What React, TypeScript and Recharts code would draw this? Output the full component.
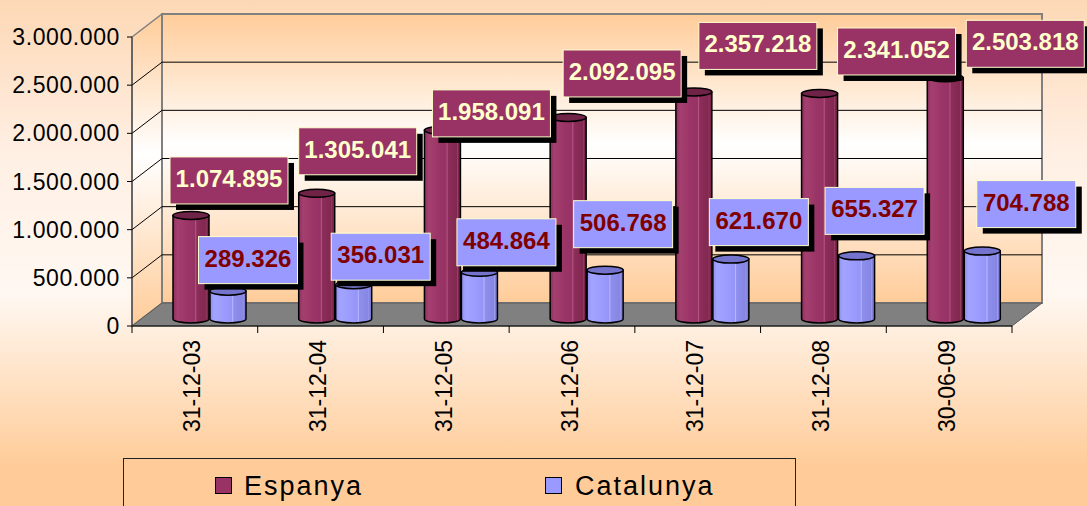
import React from 'react';
import { BarChart, Bar, XAxis, YAxis, CartesianGrid, ReferenceArea, LabelList, Legend } from 'recharts';

const categories = ['31-12-03', '31-12-04', '31-12-05', '31-12-06', '31-12-07', '31-12-08', '30-06-09'];
const espanya = [1074895, 1305041, 1958091, 2092095, 2357218, 2341052, 2503818];
const catalunya = [289326, 356031, 484864, 506768, 621670, 655327, 704788];
const yTicks = [0, 500000, 1000000, 1500000, 2000000, 2500000, 3000000];
const seriesNames = ['Espanya', 'Catalunya'];

// label placement nudges (label centre relative to the top of its cylinder)
const espLabelOffsets = [[38, -35], [41, -42], [49, -17], [54, -44], [64, -46], [77, -42], [80, -34]];
const catLabelOffsets = [[20, -31], [27, -28], [27, -30], [18, -46], [28, -37], [18, -45], [44, -47]];

const data = categories.map((c, i) => ({ cat: c, Espanya: espanya[i], Catalunya: catalunya[i] }));

const DX = 15; const DY = 7; // cylinder depth shift
const BX = 30; const BY = 23; // back wall depth
const FONT = '"Liberation Sans", Arial, Helvetica, sans-serif';
const ESP = '#993366';
const CAT = '#9999FF';

const fmt = (n: number) => String(n).replace(/\B(?=(\d{3})+(?!\d))/g, '.');

const Frame = (p: any) => {
  const { x, y, width: w, height: h } = p;
  if (x == null || w == null) return null;
  const n = categories.length;
  const ticks = Array.from({ length: n + 1 }, (_, k) => x + (k * w) / n);
  return (
    <g>
      <defs>
        <linearGradient id="wallGrad" x1="0" y1="0" x2="0" y2="1">
          <stop offset="0" stopColor="#FFCC99" />
          <stop offset="0.45" stopColor="#FFFFFF" />
          <stop offset="1" stopColor="#FFCC99" />
        </linearGradient>
      </defs>
      <polygon
        points={`${x},${y} ${x + BX},${y - BY} ${x + BX},${y + h - BY} ${x},${y + h}`}
        fill="url(#wallGrad)" stroke="#808080" strokeWidth={1.5}
      />
      <rect x={x + BX} y={y - BY} width={w} height={h} fill="url(#wallGrad)" stroke="#808080" strokeWidth={2} />
      <polygon
        points={`${x},${y + h} ${x + w},${y + h} ${x + w + BX},${y + h - BY} ${x + BX},${y + h - BY}`}
        fill="#808080" stroke="#5a5a5a" strokeWidth={1}
      />
      {ticks.map((tx, k) => (
        <line key={k} x1={tx} y1={y + h} x2={tx} y2={y + h + 7} stroke="#000" strokeWidth={1} />
      ))}
    </g>
  );
};

const gridLine = (p: any) => {
  const top = p.y; const bottom = p.y != null && p.height != null ? p.y + p.height : undefined;
  const edge = (top != null && Math.abs(p.y1 - top) < 1) || (bottom != null && Math.abs(p.y1 - bottom) < 1);
  if (edge) return <g key={p.key} />;
  return (
    <g key={p.key}>
      <line x1={p.x1 + BX} y1={p.y1 - BY} x2={p.x2 + BX} y2={p.y2 - BY} stroke="#000" strokeWidth={1} />
      <line x1={p.x1} y1={p.y1} x2={p.x1 + BX} y2={p.y1 - BY} stroke="#000" strokeWidth={1} />
    </g>
  );
};

const makeCyl = (name: string, stops: [number, string][], top: string) => (p: any) => {
  const { x, y, width: w, height: h, index } = p;
  if (x == null || h == null || w == null) return null;
  const X = x + DX; const T = y - DY; const B = y + h - DY; const rx = w / 2; const ry = 4;
  const gid = `cyl-${name}-${index}`;
  return (
    <g>
      <defs>
        <linearGradient id={gid} x1="0" y1="0" x2="1" y2="0">
          {stops.map(([o, c], k) => <stop key={k} offset={o} stopColor={c} />)}
        </linearGradient>
      </defs>
      <path d={`M${X},${T} L${X},${B} A${rx},${ry} 0 0 0 ${X + w},${B} L${X + w},${T} Z`}
        fill={`url(#${gid})`} stroke="#000" strokeWidth={1.5} />
      <ellipse cx={X + rx} cy={T} rx={rx} ry={ry} fill={top} stroke="#000" strokeWidth={1.5} />
    </g>
  );
};

const espShape = makeCyl('esp', [
  [0, '#8E2E5D'], [0.12, '#A4406F'], [0.4, '#9B3567'], [0.6, '#963264'], [0.63, '#B4557F'],
  [0.66, '#8C2D5B'], [0.9, '#82284F'], [0.92, '#9A4068'], [0.94, '#7E264E'], [1, '#76234A'],
], '#6E2347');

const catShape = makeCyl('cat', [
  [0, '#8E8EF0'], [0.12, '#A3A3FF'], [0.4, '#9C9CFF'], [0.6, '#9595F7'], [0.63, '#B5B5FF'],
  [0.66, '#8E8EEE'], [0.9, '#8686E2'], [0.92, '#9C9CF0'], [0.94, '#8282DE'], [1, '#7A7AD6'],
], '#7474CC');

const makeLabel = (offs: number[][], bw: number, fill: string, color: string) => (p: any) => {
  const vb = p.viewBox || {};
  const x = p.x ?? vb.x; const y = p.y ?? vb.y; const w = p.width ?? vb.width;
  const i = p.index;
  if (x == null || y == null || i == null) return null;
  const cx = x + w / 2 + DX + offs[i][0];
  const cy = y - DY + offs[i][1];
  const bh = 47;
  return (
    <g>
      <rect x={cx - bw / 2 + 6} y={cy - bh / 2 + 6} width={bw} height={bh} fill="#000" />
      <rect x={cx - bw / 2} y={cy - bh / 2} width={bw} height={bh} fill={fill} stroke="#FFFFCC" strokeWidth={1} />
      <text x={cx} y={cy + 6.5} textAnchor="middle" fontFamily={FONT} fontWeight="bold" fontSize={24} fill={color}>
        {fmt(Number(p.value))}
      </text>
    </g>
  );
};

const espLabel = makeLabel(espLabelOffsets, 118, ESP, '#FFFFCC');
const catLabel = makeLabel(catLabelOffsets, 99, CAT, '#800000');

const XTick = (p: any) => {
  const { x, y, payload } = p;
  return (
    <text transform={`translate(${x - 2.5},${y}) rotate(-90)`} textAnchor="end" dominantBaseline="central"
      fontFamily={FONT} fontSize={23} fill="#000">
      {payload.value}
    </text>
  );
};

const LegendBox = (p: any) => {
  const raw = p.payload && p.payload.length ? p.payload : [];
  const items = seriesNames.map((s, i) => {
    const found = raw.find((e: any) => e.value === s || e.dataKey === s);
    return { value: s, color: (found && found.color) || (i ? CAT : ESP) };
  });
  const pos = [[91, 120], [421, 451]];
  return (
    <div style={{ position: 'relative', width: 673, height: 60, background: '#FFCC99', border: '1px solid #222', boxSizing: 'border-box', fontFamily: FONT }}>
      {items.map((e: any, i: number) => (
        <React.Fragment key={i}>
          <div style={{ position: 'absolute', left: pos[i][0], top: 18, width: 17, height: 17, background: e.color, border: '1.5px solid #000', boxSizing: 'border-box' }} />
          <div style={{ position: 'absolute', left: pos[i][1], top: 11, height: 32, lineHeight: '32px', fontSize: 27, letterSpacing: '2px', color: '#000', whiteSpace: 'nowrap' }}>
            {e.value}
          </div>
        </React.Fragment>
      ))}
    </div>
  );
};

export default function App() {
  return (
    <div style={{
      position: 'absolute', left: 0, top: 0, width: 1087, height: 506, overflow: 'hidden',
      background: 'linear-gradient(to bottom, #FDD8B5 0%, #FFEFE3 30%, #FFF8F2 58%, #FFCC99 92%, #FFCC99 100%)',
    }}>
      <BarChart width={1087} height={506} data={data} margin={{ top: 37, right: 75, bottom: 60, left: 0 }} barGap={1}>
        <ReferenceArea y1={0} y2={3000000} ifOverflow="visible" shape={Frame} zIndex={-200} />
        <CartesianGrid vertical={false} horizontal={gridLine} zIndex={-100} />
        <XAxis dataKey="cat" interval={0} tickLine={false} tickSize={0} tickMargin={14} height={120}
          axisLine={{ stroke: '#000', strokeWidth: 1 }} tick={XTick} />
        <YAxis domain={[0, 3000000]} ticks={yTicks} interval={0} width={132} tickSize={5} tickMargin={7}
          tickFormatter={fmt} axisLine={{ stroke: '#333', strokeWidth: 1 }} tickLine={{ stroke: '#000' }}
          tick={{ fill: '#000', fontSize: 23, fontFamily: FONT, letterSpacing: 0.6 }} />
        <Legend verticalAlign="middle" align="center" layout="horizontal" content={LegendBox}
          wrapperStyle={{ left: 123, top: 458, width: 673, height: 60 }} />
        <Bar dataKey="Espanya" name="Espanya" fill={ESP} barSize={36} isAnimationActive={false} shape={espShape}>
          <LabelList dataKey="Espanya" content={espLabel} />
        </Bar>
        <Bar dataKey="Catalunya" name="Catalunya" fill={CAT} barSize={36} isAnimationActive={false} shape={catShape}>
          <LabelList dataKey="Catalunya" content={catLabel} />
        </Bar>
      </BarChart>
    </div>
  );
}
